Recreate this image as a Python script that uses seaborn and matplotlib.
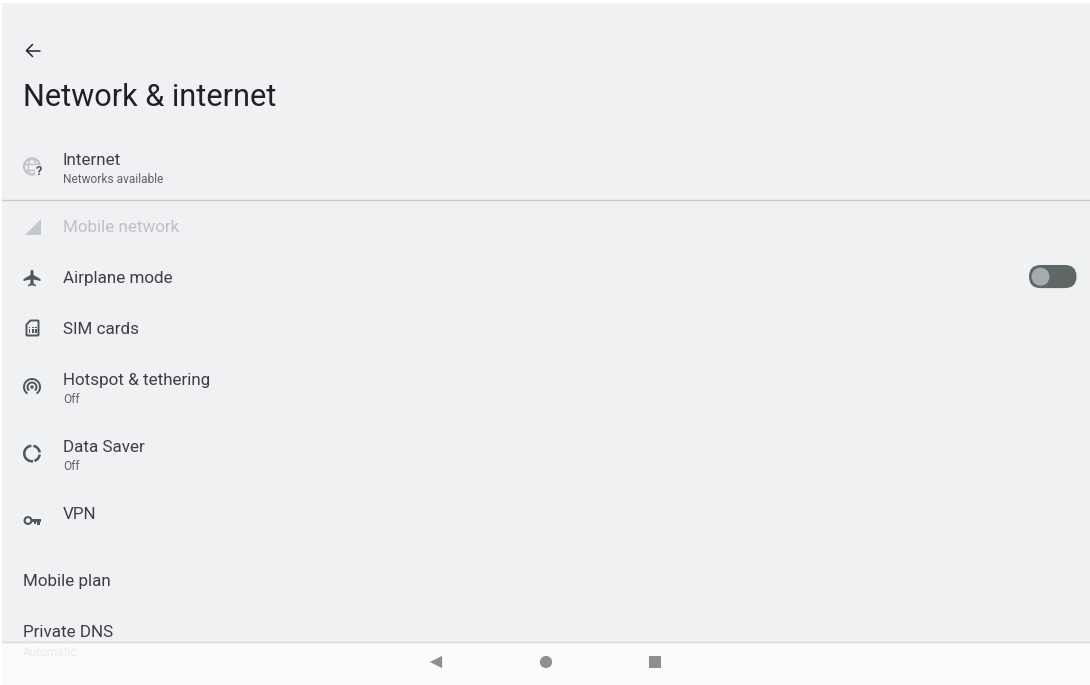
import matplotlib
matplotlib.use("Agg")
import matplotlib.pyplot as plt
from matplotlib.patches import Arc, Circle, FancyBboxPatch, Polygon, Rectangle
import pandas as pd
import seaborn as sns

OUTPUT_FILE = "out.png"

page_title = "Network & internet"
row_labels = ["Internet", "Mobile network", "Airplane mode", "SIM cards",
              "Hotspot & tethering", "Data Saver", "VPN", "Mobile plan", "Private DNS"]
row_subtitles = ["Networks available", "", "", "", "Off", "Off", "", "", "Automatic"]
nav_buttons = ["back", "home", "recents"]

# layout, in screen pixels
row_x = [63, 63, 63, 63, 63, 63, 63, 23, 23]
row_base = [165, 232, 283, 334, 385, 452, 519, 586, 637]
sub_base = [183, 0, 0, 0, 403, 470, 0, 0, 655.5]
sub_color = ["#5f6368", "", "", "", "#5f6368", "#5f6368", "", "", "#ebebeb"]
label_color = ["#3c4043", "#bfc2c5", "#3c4043", "#3c4043", "#3c4043", "#3c4043",
               "#3c4043", "#3c4043", "#3c4043"]
nav_x = [436, 546, 655]
nav_y = [662, 662, 662]

BG = "#eff1f3"
DARK = "#50565a"


def draw_icons(ax):
    # back arrow
    ax.plot([39.5, 26.5], [50.5, 50.5], color="#202124", lw=1.1)
    ax.plot([32.5, 26.5, 32.5], [44.5, 50.5, 56.5], color="#202124", lw=1.1)

    # globe with question mark
    grey = "#c0c4c7"
    ax.add_patch(Circle((32, 166.5), 8, fill=False, ec=grey, lw=1.6))
    ax.plot([24, 40], [163.5, 163.5], color=grey, lw=1)
    ax.plot([24, 40], [169.5, 169.5], color=grey, lw=1)
    ax.add_patch(Arc((32, 166.5), 7.5, 16, fc="none", ec=grey, lw=1))
    ax.add_patch(Rectangle((34.5, 165), 9, 11, fc=BG, ec="none", zorder=3))
    ax.text(39, 174.5, "?", fontsize=9.5, fontweight="bold", color="#55595d",
            ha="center", va="baseline", zorder=4)

    # signal triangle
    ax.add_patch(Polygon([(25, 235), (41, 235), (41, 218.5)], fc="#c5c8ca", ec="none"))

    # airplane
    ax.add_patch(Polygon(
        [(32, 269.5), (33.4, 271), (33.6, 275), (40.5, 279), (40.5, 281), (33.6, 279.5),
         (33.6, 283.5), (36, 285), (36, 286.3), (32, 285.2), (28, 286.3), (28, 285),
         (30.4, 283.5), (30.4, 279.5), (23.5, 281), (23.5, 279), (30.4, 275), (30.6, 271)],
        fc=DARK, ec="none"))

    # sim card
    ax.add_patch(Polygon([(30.5, 320.5), (38, 320.5), (38.5, 321), (38.5, 335), (38, 335.5),
                          (27, 335.5), (26.5, 335), (26.5, 324.5)],
                         fc="none", ec=DARK, lw=1.4, joinstyle="round"))
    for cx, cy in [(29.5, 327.5), (33, 327.5), (35.8, 327.5), (29.5, 332), (33, 332), (35.8, 332),
                   (33, 330), (29.5, 330), (35.8, 330)]:
        ax.add_patch(Rectangle((cx - 0.8, cy - 0.8), 1.6, 1.6, fc=DARK, ec="none"))

    # hotspot
    ax.add_patch(Circle((32, 387), 1.7, fc=DARK, ec="none"))
    ax.add_patch(Arc((32, 387), 9, 9, theta1=130, theta2=50, ec=DARK, lw=1.4))
    ax.add_patch(Arc((32, 387), 16, 16, theta1=125, theta2=55, ec=DARK, lw=1.4))

    # data saver ring, y axis is flipped so angles run clockwise
    ax.add_patch(Arc((32, 453.5), 15.5, 15.5, theta1=-80, theta2=-8, ec=DARK, lw=1.8))
    ax.add_patch(Arc((32, 453.5), 15.5, 15.5, theta1=8, theta2=72, ec=DARK, lw=1.8))
    ax.add_patch(Arc((32, 453.5), 15.5, 15.5, theta1=82, theta2=265, ec=DARK, lw=1.8))

    # key
    ax.add_patch(Circle((28, 520.5), 3.4, fill=False, ec=DARK, lw=1.5))
    ax.add_patch(Polygon([(31, 519), (41, 519), (41, 522), (39.8, 522), (39.8, 525),
                          (37.4, 525), (37.4, 522), (35.8, 522), (35.8, 524), (33.6, 524),
                          (33.6, 522), (31, 522)], fc=DARK, ec="none"))


def draw_toggle(ax):
    ax.add_patch(FancyBboxPatch((1040.5, 276.5), 24.5, 0.1,
                                boxstyle="round,pad=11.5,rounding_size=11.5",
                                fc="#5f6666", ec="none", zorder=2))
    ax.add_patch(Circle((1040.5, 276.7), 9, fc="#a6acae", ec="none", zorder=3))


def main():
    sns.set_theme(style="white")
    plt.rcParams["font.family"] = ["Roboto", "DejaVu Sans"]

    fig = plt.figure(figsize=(10.9, 6.85), dpi=100, facecolor="white")
    ax = fig.add_axes([0, 0, 1, 1])
    ax.set_xlim(0, 1090)
    ax.set_ylim(685, 0)
    ax.set_axis_off()

    ax.add_patch(Rectangle((2, 3), 1088, 640, fc=BG, ec="none", zorder=0))
    ax.add_patch(Rectangle((2, 643), 1088, 42, fc="#fbfbfb", ec="none", zorder=0))
    ax.plot([2, 1090], [200.2, 200.2], color="#c9cbcd", lw=1)
    ax.plot([2, 1090], [642.2, 642.2], color="#d9dbdc", lw=1)

    ax.text(23, 105.5, page_title, fontsize=22.05, color="#202124", va="baseline")

    for i, label in enumerate(row_labels):
        ax.text(row_x[i], row_base[i], label, fontsize=12.25, color=label_color[i], va="baseline")
        if row_subtitles[i]:
            ax.text(row_x[i], sub_base[i], row_subtitles[i], fontsize=8.6, color=sub_color[i],
                    va="baseline")

    draw_icons(ax)
    draw_toggle(ax)

    nav = pd.DataFrame({"x": nav_x, "y": nav_y, "button": nav_buttons})
    sns.scatterplot(
        data=nav, x="x", y="y", style="button",
        markers={"back": "<", "home": "o", "recents": "s"},
        color="#8f8f8f", s=78, linewidth=0, legend=False, ax=ax, zorder=5
    )
    ax.set_xlim(0, 1090)
    ax.set_ylim(685, 0)

    fig.savefig(OUTPUT_FILE, dpi=100)
    plt.close(fig)


if __name__ == "__main__":
    main()
